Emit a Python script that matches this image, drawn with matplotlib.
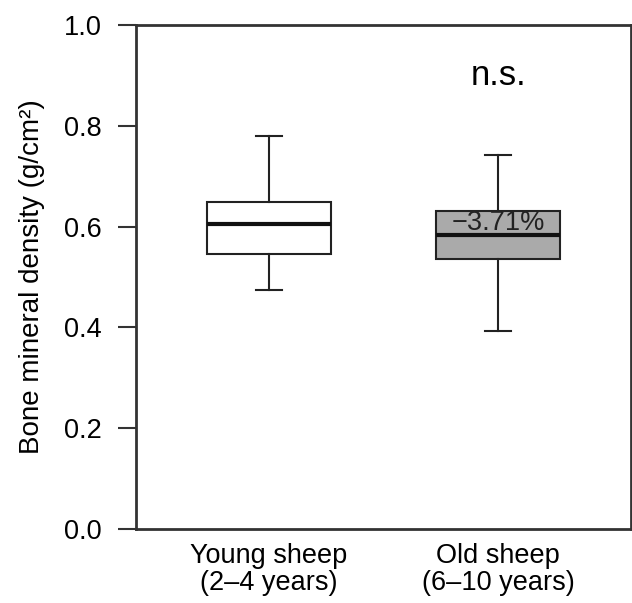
import matplotlib
matplotlib.use("Agg")
import matplotlib.pyplot as plt

plt.rcParams['font.family'] = ['Liberation Sans', 'DejaVu Sans']

# box statistics
groups = ["Young sheep\n(2\u20134 years)", "Old sheep\n(6\u201310 years)"]
whislo = [0.474, 0.393]
q1 = [0.545, 0.536]
med = [0.605, 0.583]
q3 = [0.649, 0.631]
whishi = [0.780, 0.742]
fills = ["white", "#aaaaaa"]
yticks = [0.0, 0.2, 0.4, 0.6, 0.8, 1.0]

stats = []
for i in range(len(groups)):
    stats.append(dict(whislo=whislo[i], q1=q1[i], med=med[i], q3=q3[i],
                      whishi=whishi[i], fliers=[], label=groups[i]))

fig = plt.figure(figsize=(6.32, 6.03), dpi=100)
ax = fig.add_axes([0.2152, 0.1227, 0.7832, 0.8358])

bp = ax.bxp(stats, positions=[1, 2], widths=0.54, patch_artist=True,
            showfliers=False, capwidths=0.11,
            boxprops=dict(edgecolor="#222222", linewidth=1.5),
            whiskerprops=dict(color="#222222", linewidth=1.5),
            capprops=dict(color="#222222", linewidth=1.5),
            medianprops=dict(color="#111111", linewidth=3))
for patch, c in zip(bp['boxes'], fills):
    patch.set_facecolor(c)

ax.set_xlim(0.42, 2.58)
ax.set_ylim(0, 1)
ax.set_yticks(yticks)
ax.set_yticklabels(["%.1f" % t for t in yticks])
ax.tick_params(axis='y', length=13, width=1.5, color="#333333",
               labelsize=19.5, pad=12)
ax.tick_params(axis='x', length=0, labelsize=19.5, pad=10)
for lbl in ax.get_xticklabels():
    lbl.set_linespacing(1.05)
for s in ax.spines.values():
    s.set_linewidth(2)
    s.set_color("#333333")

ax.set_ylabel("Bone mineral density (g/cm\u00b2)", fontsize=20, labelpad=13.5)

ax.text(2, 0.90, "n.s.", ha='center', va='center', fontsize=25)
ax.text(2, 0.607, "\u22123.71%", ha='center', va='center', fontsize=19.5,
        color="#222222")

fig.savefig("out.png", dpi=100)
